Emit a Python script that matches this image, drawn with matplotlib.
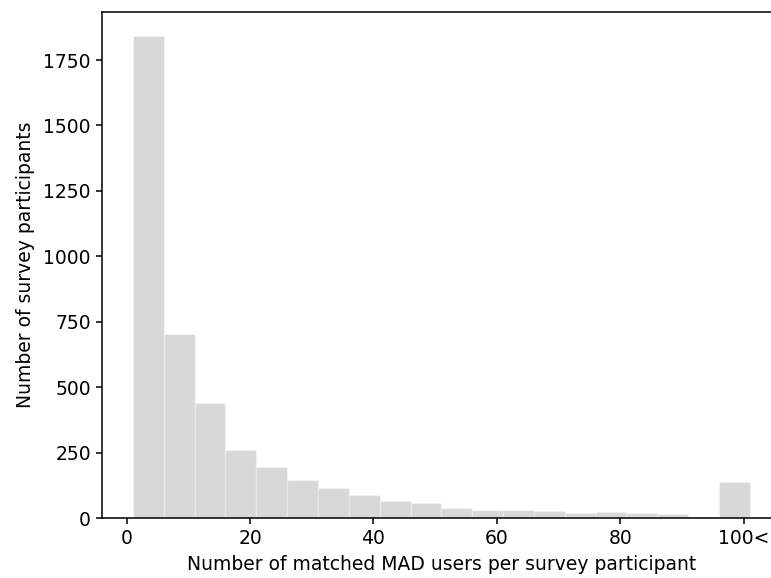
import matplotlib.pyplot as plt
import numpy as np

# Histogram data (bins of width 5 starting at 1, last bin = 100 and above)
bin_left = [1, 6, 11, 16, 21, 26, 31, 36, 41, 46, 51, 56, 61, 66, 71, 76, 81, 86, 91, 96]
counts = [1841, 703, 438, 259, 195, 146, 113, 87, 64, 57, 38, 31, 31, 28, 18, 23, 19, 14, 5, 138]
tick_pos = [0, 20, 40, 60, 80, 100]
tick_labels = ["0", "20", "40", "60", "80", "100<"]

fig = plt.figure(figsize=(7.71, 5.78), dpi=100)
ax = fig.add_axes([0.1323, 0.1038, 0.8803, 0.8752])

ax.bar(bin_left, counts, width=5, align="edge", color="grey", alpha=0.3,
       edgecolor="white", linewidth=1)

ax.set_xticks(tick_pos)
ax.set_xticklabels(tick_labels)
ax.tick_params(labelsize=13.5, length=4.5, width=1.1)
for s in ax.spines.values():
    s.set_linewidth(1.1)

ax.set_xlabel("Number of matched MAD users per survey participant", fontsize=13.5, labelpad=5)
ax.set_ylabel("Number of survey participants", fontsize=13.5, labelpad=6)

fig.savefig("out.png", dpi=100)
